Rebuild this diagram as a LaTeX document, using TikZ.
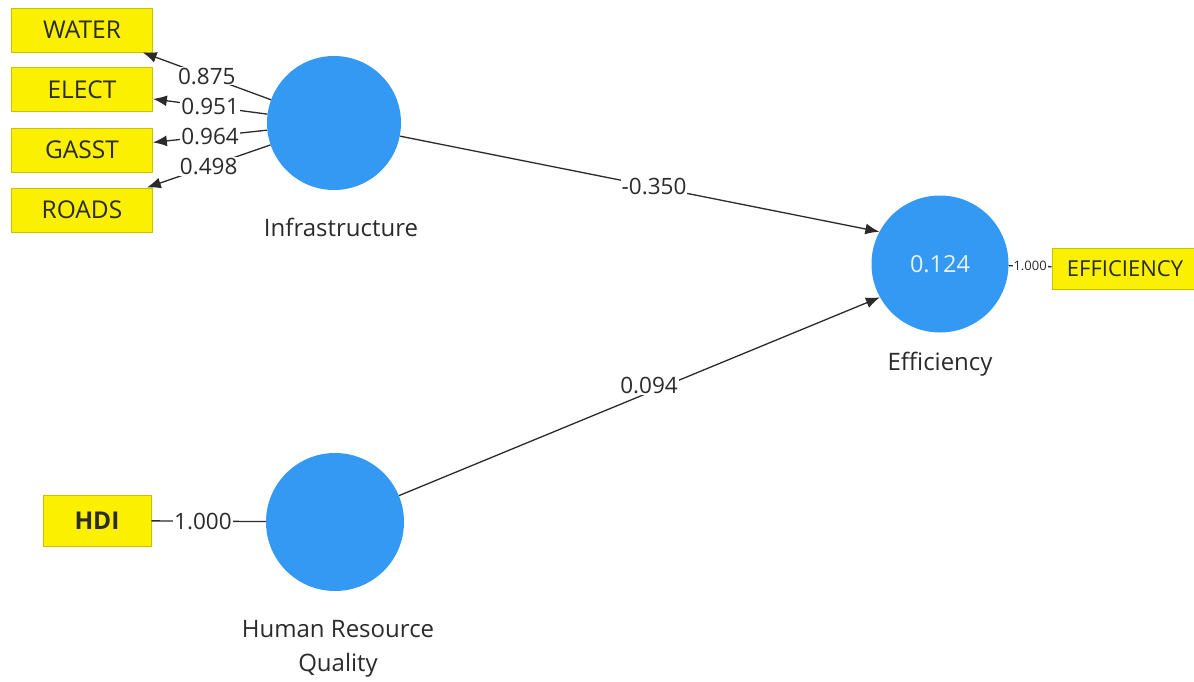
\documentclass[tikz,border=0pt]{standalone}
\usepackage{fontspec}
\setmainfont{Open Sans}
\usetikzlibrary{arrows.meta}
\definecolor{lvblue}{HTML}{3399F3}
\definecolor{boxyellow}{HTML}{FAF000}
\definecolor{boxedge}{HTML}{C9C000}
\definecolor{ink}{HTML}{2B2B2B}
\tikzset{
  lv/.style={circle, fill=lvblue, draw=none, minimum size=134pt, inner sep=0pt,
    text=white!88!lvblue, font=\fontsize{23.5}{28}\selectfont},
  ind/.style={rectangle, fill=boxyellow, draw=boxedge, line width=0.8pt,
    minimum width=141pt, minimum height=44pt, inner sep=0pt, text=ink,
    font=\fontsize{24.5}{28}\selectfont},
  lvcaption/.style={text=ink, font=\fontsize{24}{34}\selectfont, align=center},
  conn/.style={draw=ink, line width=1.3pt},
  arr/.style={conn, -{Latex[length=14pt,width=11pt]}},
  wlab/.style={fill=white, inner sep=1pt, text=ink, font=\fontsize{22.5}{26}\selectfont},
  slab/.style={fill=white, inner sep=1pt, text=ink, font=\fontsize{13}{15}\selectfont}
}
\begin{document}
\begin{tikzpicture}[x=1pt,y=-1pt]
\useasboundingbox[fill=white] (0,0) rectangle (1194,682);
% latent variables
\node[lv] (inf) at (334,123) {};
\node[lv, minimum size=137pt] (eff) at (940,264) {0.124};
\node[lv, minimum size=138pt] (hrq) at (335,522) {};
% captions
\node[lvcaption] (infcap) at (341,227) {Infrastructure};
\node[lvcaption] (effcap) at (940,364) {Efficiency};
\node[lvcaption] (hrqcap) at (338,649) {Human Resource\\Quality};
% indicators
\node[ind] (water) at (82,30) {WATER};
\node[ind] (elect) at (82,89.5) {ELECT};
\node[ind] (gasst) at (82,150) {GASST};
\node[ind] (roads) at (82,210) {ROADS};
\node[ind, minimum width=108pt, minimum height=51pt, font=\fontsize{24.5}{28}\selectfont\bfseries] (hdi) at (97,520.5) {HDI};
\node[ind, minimum width=146pt, minimum height=41pt, font=\fontsize{22}{26}\selectfont] (effbox) at (1125,268.5) {EFFICIENCY};
% outer loadings
\draw[arr] (inf) -- node[wlab] {0.875} (water);
\draw[arr] (inf) -- node[wlab] {0.951} (elect);
\draw[arr] (inf) -- node[wlab] {0.964} (gasst);
\draw[arr] (inf) -- node[wlab] {0.498} (roads);
\draw[conn] (hdi) -- node[wlab, pos=0.45] {1.000} (hrq);
\draw[conn] (eff) -- node[slab] {1.000} (effbox);
% path coefficients
\draw[arr] (inf) -- node[wlab, pos=0.53] {-0.350} (eff.152);
\draw[arr] (hrq) -- node[wlab, pos=0.52, yshift=7pt] {0.094} (eff.209);
\end{tikzpicture}
\end{document}
